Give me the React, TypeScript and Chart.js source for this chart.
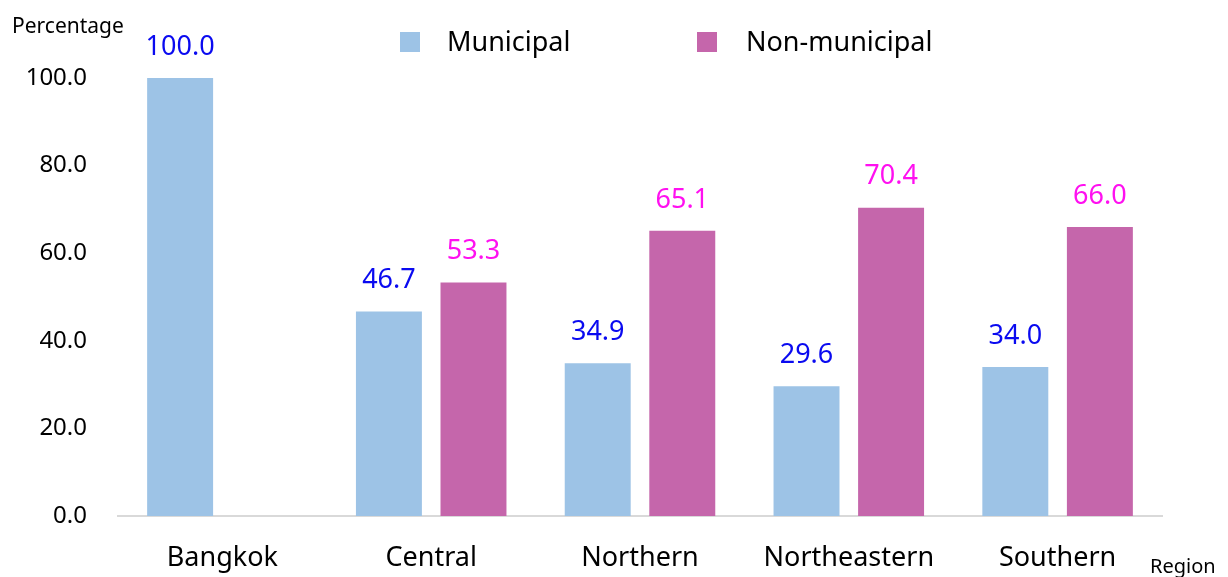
import { useEffect, useRef } from "react";
import { Chart, registerables } from "chart.js";

Chart.register(...registerables);

const categories = ["Bangkok", "Central", "Northern", "Northeastern", "Southern"];
const municipal: (number | null)[] = [100.0, 46.7, 34.9, 29.6, 34.0];
const nonMunicipal: (number | null)[] = [null, 53.3, 65.1, 70.4, 66.0];
const seriesNames = ["Municipal", "Non-municipal"];
const yAxisTitle = "Percentage";
const xAxisTitle = "Region";

const FONT = "'Noto Sans', 'DejaVu Sans', sans-serif";
const colors = ["#9DC3E6", "#C566AB"];
const labelColors = ["#0A0AF0", "#FF10F0"];

const overlayPlugin = {
  id: "overlay",
  afterDatasetsDraw(chart: any) {
    const ctx = chart.ctx;
    ctx.save();
    // value labels
    chart.data.datasets.forEach((ds: any, di: number) => {
      const meta = chart.getDatasetMeta(di);
      meta.data.forEach((el: any, i: number) => {
        const v = ds.data[i];
        if (v === null || v === undefined) return;
        ctx.font = `27px ${FONT}`;
        ctx.fillStyle = labelColors[di];
        ctx.textAlign = "center";
        ctx.textBaseline = "middle";
        ctx.fillText(Number(v).toFixed(1), el.x, el.y - 31);
      });
    });
    // legend
    const legendX = [400, 697];
    const textX = [447, 746];
    seriesNames.forEach((name, i) => {
      ctx.fillStyle = colors[i];
      ctx.fillRect(legendX[i], 32, 20, 20);
      ctx.fillStyle = "#000";
      ctx.font = `27px ${FONT}`;
      ctx.textAlign = "left";
      ctx.textBaseline = "middle";
      ctx.fillText(name, textX[i], 43);
    });
    // axis titles
    ctx.fillStyle = "#000";
    ctx.textAlign = "left";
    ctx.textBaseline = "middle";
    ctx.font = `21px ${FONT}`;
    ctx.fillText(yAxisTitle, 12, 27);
    ctx.font = `20px ${FONT}`;
    ctx.fillText(xAxisTitle, 1150, 567);
    ctx.restore();
  },
};

export default function App() {
  const ref = useRef<HTMLCanvasElement | null>(null);
  useEffect(() => {
    if (!ref.current) return;
    const chart = new Chart(ref.current, {
      type: "bar",
      data: {
        labels: categories,
        datasets: [
          {
            label: seriesNames[0],
            data: municipal,
            backgroundColor: colors[0],
            categoryPercentage: 0.81,
            barPercentage: 0.78,
          },
          {
            label: seriesNames[1],
            data: nonMunicipal,
            backgroundColor: colors[1],
            categoryPercentage: 0.81,
            barPercentage: 0.78,
          },
        ],
      },
      options: {
        responsive: false,
        animation: false,
        layout: { padding: { top: 78, right: 66, left: 0, bottom: 0 } },
        plugins: {
          legend: { display: false },
          tooltip: { enabled: false },
        },
        scales: {
          x: {
            grid: { display: false, drawTicks: false },
            border: { display: true, color: "#D9D9D9", width: 2 },
            ticks: { font: { family: FONT, size: 27 }, color: "#000", padding: 26, maxRotation: 0 },
            afterFit: (s: any) => {
              s.height = 61;
            },
          },
          y: {
            min: 0,
            max: 100,
            grid: { display: false, drawTicks: false },
            border: { display: false },
            ticks: {
              stepSize: 20,
              font: { family: FONT, size: 24 },
              color: "#000",
              padding: 31,
              callback: (v: any) => Number(v).toFixed(1),
            },
            afterFit: (s: any) => {
              s.width = 118;
            },
          },
        },
      },
      plugins: [overlayPlugin],
    });
    return () => chart.destroy();
  }, []);
  return (
    <div style={{ position: "fixed", left: 0, top: 0, width: 1228, height: 577, background: "#fff" }}>
      <canvas ref={ref} width={1228} height={577} style={{ width: 1228, height: 577 }} />
    </div>
  );
}
